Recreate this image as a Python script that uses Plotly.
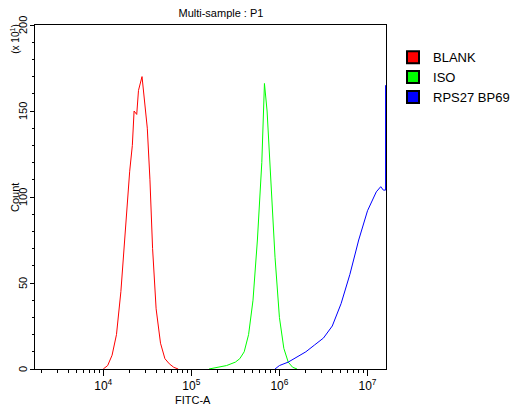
import plotly.graph_objects as go

red_logx = [4.0,4.05,4.1,4.15,4.2,4.25,4.3,4.33,4.35,4.38,4.4,4.44,4.47,4.5,4.53,4.56,4.6,4.65,4.7,4.75,4.8,4.85]
red_y    = [0,2,8,20,45,80,115,130,150,148,162,170,155,140,110,70,35,15,6,3,1,0]
green_logx = [5.2,5.3,5.4,5.5,5.55,5.6,5.65,5.7,5.75,5.8,5.83,5.86,5.9,5.95,6.0,6.05,6.1,6.15,6.2]
green_y    = [0,1,2,4,6,10,20,40,75,120,166,150,110,65,30,12,4,1,0]
blue_logx = [5.95,6.0,6.1,6.2,6.3,6.4,6.5,6.6,6.7,6.8,6.9,7.0,7.05,7.1,7.15,7.18,7.205,7.205]
blue_y    = [0,2,4,7,10,14,18,25,38,55,75,92,98,103,106,104,104,165]
names = ["BLANK", "ISO", "RPS27 BP69"]
colors = ["#ff0000", "#00ff00", "#0000ff"]
x_ticks = [1e4, 1e5, 1e6, 1e7]
x_ticktext = ["10<sup>4</sup>", "10<sup>5</sup>", "10<sup>6</sup>", "10<sup>7</sup>"]
y_ticks = [0, 50, 100, 150, 200]

fig = go.Figure()
for lx, y, n, c in [(red_logx, red_y, names[0], colors[0]),
                    (green_logx, green_y, names[1], colors[1]),
                    (blue_logx, blue_y, names[2], colors[2])]:
    fig.add_trace(go.Scatter(x=[10**v for v in lx], y=y, mode="lines",
                             line=dict(color=c, width=1), showlegend=False))
for n, c in zip(names, colors):
    fig.add_trace(go.Scatter(x=[None], y=[None], mode="markers", name=n,
                             marker=dict(symbol="square", size=13, color=c,
                                         line=dict(color="black", width=1))))

minor_x = []
for d in range(3, 8):
    for k in range(2, 10):
        v = k * 10**d
        if 10**3.225 <= v <= 10**7.21:
            minor_x.append(v)

ytick_ann = [dict(text=str(v), xref="paper", yref="y", x=0, y=v, xanchor="right",
                  yanchor="middle", textangle=-90, showarrow=False, xshift=-5,
                  borderpad=0, font=dict(size=11)) for v in y_ticks]

fig.update_layout(
    width=522, height=407, paper_bgcolor="white", plot_bgcolor="white",
    margin=dict(l=27, r=144, t=17, b=46, autoexpand=False),
    font=dict(family="Liberation Sans, Arial", size=12, color="black"),
    title=dict(text="Multi-sample : P1", x=0.408, xanchor="center", y=0.998, yanchor="top",
               font=dict(size=11)),
    legend=dict(x=1.02, y=0.95, xanchor="left", yanchor="top", font=dict(size=13),
                tracegroupgap=0, itemsizing="constant", bgcolor="rgba(0,0,0,0)",
                itemwidth=30),
    xaxis=dict(type="log", range=[3.225, 7.21], tickvals=x_ticks, ticktext=x_ticktext,
               automargin=False,
               ticks="outside", ticklen=6, tickcolor="black", showgrid=False, zeroline=False,
               showline=True, linecolor="black", mirror=True,
               minor=dict(tickvals=minor_x, ticks="outside", ticklen=3, tickcolor="black")),
    yaxis=dict(range=[0, 200], tickvals=y_ticks, showticklabels=False, automargin=False,
               ticks="outside", ticklen=4, tickcolor="black", showgrid=False, zeroline=False,
               showline=True, linecolor="black", mirror=True,
               minor=dict(dtick=10, ticks="outside", ticklen=2, tickcolor="black")),
    annotations=ytick_ann + [
        dict(text="(x 10<sup>1</sup>)", xref="paper", yref="paper", x=-0.077, y=1.005,
             xanchor="left", yanchor="top", textangle=-90, showarrow=False,
             font=dict(size=10), borderpad=0),
        dict(text="Count", xref="paper", yref="paper", x=-0.077, y=0.5,
             xanchor="left", yanchor="middle", textangle=-90, showarrow=False,
             font=dict(size=11), borderpad=0),
        dict(text="FITC-A", xref="paper", yref="paper", x=0.45, y=-0.068,
             xanchor="center", yanchor="top", showarrow=False, font=dict(size=11)),
    ],
)
fig.write_html("out.html")
